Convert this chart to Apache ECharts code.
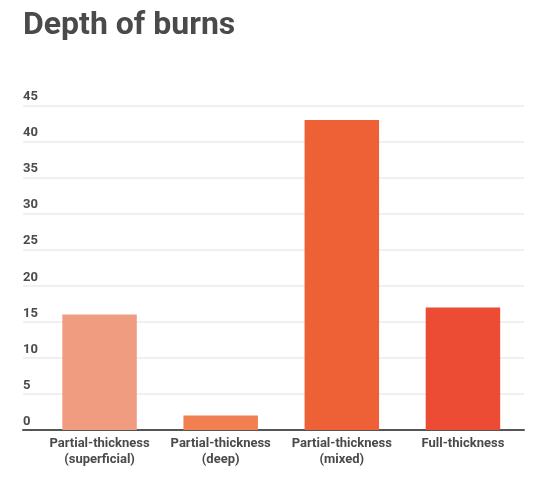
<!DOCTYPE html>
<html>
<head>
<meta charset="utf-8">
<script src="https://cdn.jsdelivr.net/npm/echarts@6/dist/echarts.min.js"></script>
<style>
  html, body { margin: 0; padding: 0; background: #fff; }
  #chart { width: 534px; height: 480px; }
</style>
</head>
<body>
<div id="chart"></div>
<script>
// 数据
var categories = ['Partial-thickness\n(superficial)', 'Partial-thickness\n(deep)', 'Partial-thickness\n(mixed)', 'Full-thickness'];
var values = [16, 2, 43, 17];
var barColors = ['#ef9c80', '#f07f52', '#ee6136', '#ec4b34'];
var yTicks = { min: 0, max: 45, interval: 5 };

var chart = echarts.init(document.getElementById('chart'), null, { renderer: 'canvas' });

var option = {
    animation: false,
    backgroundColor: '#fff',
    textStyle: { fontFamily: 'Roboto' },
    title: {
        text: 'Depth of burns',
        left: 23,
        top: 10,
        padding: 0,
        textStyle: { fontSize: 32, fontWeight: 'bold', color: '#4a4a4a', fontFamily: 'Roboto' }
    },
    // grid 0: 网格线和 y 轴标签, grid 1: 柱子
    grid: [
        { left: 23, right: 10, top: 105.5, bottom: 50, containLabel: false },
        { left: 39, right: 10.5, top: 105.5, bottom: 50, containLabel: false }
    ],
    xAxis: [
        {
            gridIndex: 0,
            type: 'value',
            min: 0, max: 1,
            axisLine: { show: true, lineStyle: { color: '#555', width: 2 } },
            axisTick: { show: false },
            axisLabel: { show: false },
            splitLine: { show: false }
        },
        {
            gridIndex: 1,
            type: 'category',
            data: categories,
            axisLine: { show: false },
            axisTick: { show: false },
            axisLabel: {
                interval: 0,
                hideOverlap: false,
                margin: 6,
                fontSize: 13,
                fontWeight: 'bold',
                lineHeight: 16,
                color: '#4a4a4a',
                fontFamily: 'Roboto'
            }
        }
    ],
    yAxis: [
        {
            gridIndex: 0,
            type: 'value',
            min: yTicks.min, max: yTicks.max, interval: yTicks.interval,
            axisLine: { show: false },
            axisTick: { show: false },
            axisLabel: {
                inside: true,
                margin: 0,
                verticalAlign: 'bottom',
                padding: [0, 0, 2, 0],
                fontSize: 13,
                fontWeight: 'bold',
                color: '#4a4a4a',
                fontFamily: 'Roboto'
            },
            splitLine: { show: true, lineStyle: { color: '#ebebeb', width: 1.5 } }
        },
        {
            gridIndex: 1,
            type: 'value',
            min: yTicks.min, max: yTicks.max, interval: yTicks.interval,
            show: false
        }
    ],
    series: [{
        type: 'bar',
        xAxisIndex: 1,
        yAxisIndex: 1,
        barWidth: '61.5%',
        data: values.map(function (v, i) {
            return { value: v, itemStyle: { color: barColors[i] } };
        })
    }]
};

chart.setOption(option);
</script>
</body>
</html>
